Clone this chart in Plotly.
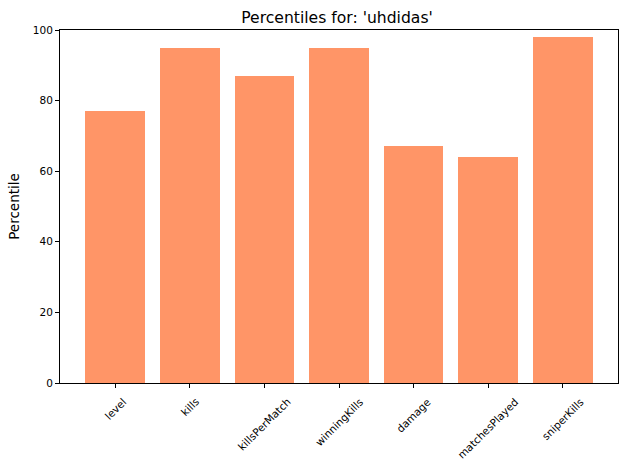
import plotly.graph_objects as go

categories = ["level", "kills", "killsPerMatch", "winningKills", "damage", "matchesPlayed", "sniperKills"]
percentiles = [77, 95, 87, 95, 67, 64, 98]
y_ticks = [0, 20, 40, 60, 80, 100]

xs = list(range(len(categories)))

fig = go.Figure(go.Bar(
    x=xs, y=percentiles,
    marker=dict(color="#ff9567", line=dict(width=0)),
    width=0.8,
))

# rotated tick labels, centred under each tick like matplotlib (rotation=45, ha='center')
annotations = [
    dict(x=x, y=0, xref="x", yref="y", text=c, showarrow=False, textangle=-45,
         xanchor="center", yanchor="top", yshift=-10, font=dict(size=10.5, family="DejaVu Sans", color="black"))
    for x, c in zip(xs, categories)
]

fig.update_layout(
    width=630, height=470,
    margin=dict(l=60, r=12, t=30, b=87),
    paper_bgcolor="white", plot_bgcolor="white",
    font=dict(family="DejaVu Sans", color="black"),
    title=dict(text="Percentiles for: 'uhdidas'", x=0.535, xanchor="center", y=0.963, yanchor="middle",
               font=dict(size=15.6)),
    showlegend=False,
    bargap=0,
    annotations=annotations,
)
fig.update_xaxes(
    range=[-0.74, 6.74], tickmode="array", tickvals=xs, showticklabels=False,
    ticks="outside", ticklen=4, tickcolor="black",
    showline=True, linecolor="black", linewidth=1, mirror=True, showgrid=False, zeroline=False,
)
fig.update_yaxes(
    range=[0, 100], tickvals=y_ticks, tickfont=dict(size=10.5), ticks="outside", ticklen=4, tickcolor="black",
    showline=True, linecolor="black", linewidth=1, mirror=True, showgrid=False, zeroline=False,
    title=dict(text="Percentile", font=dict(size=13.5), standoff=10),
)

fig.write_html("out.html")
